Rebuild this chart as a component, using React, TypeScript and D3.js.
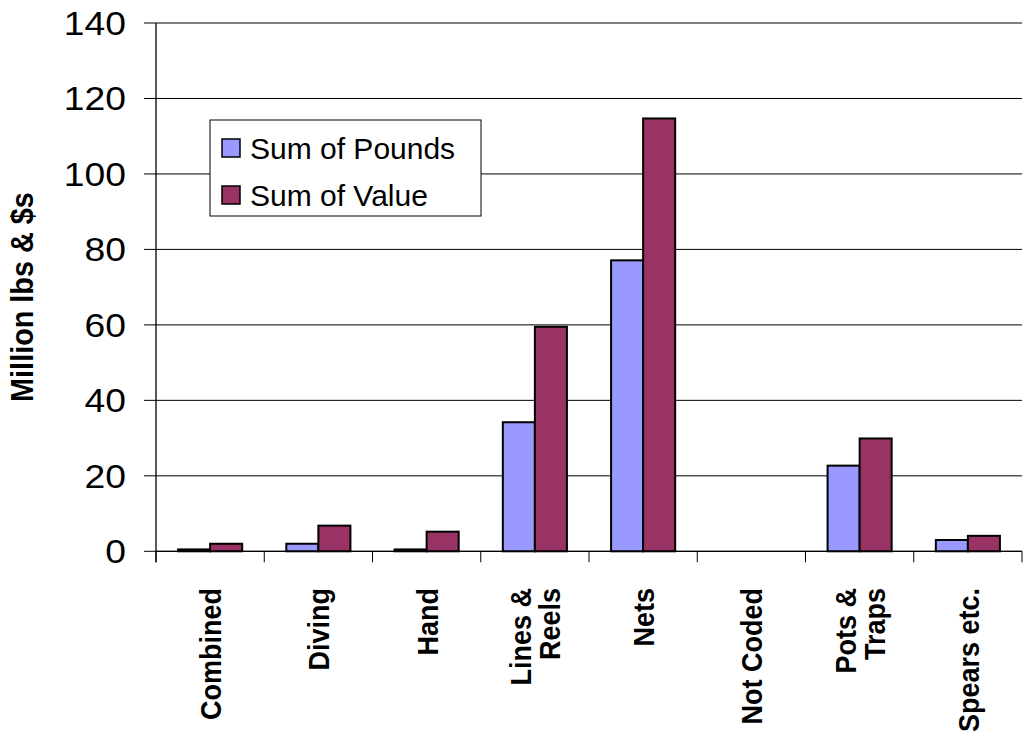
import React from "react";
import * as d3 from "d3";

const categories: string[][] = [
  ["Combined"],
  ["Diving"],
  ["Hand"],
  ["Lines &", "Reels"],
  ["Nets"],
  ["Not Coded"],
  ["Pots &", "Traps"],
  ["Spears etc."],
];
const pounds: number[] = [0.5, 2.0, 0.5, 34.2, 77.1, 0, 22.7, 3.0];
const values: number[] = [2.0, 6.8, 5.2, 59.5, 114.7, 0, 29.9, 4.1];
const yTicks: number[] = [0, 20, 40, 60, 80, 100, 120, 140];
const seriesNames: string[] = ["Sum of Pounds", "Sum of Value"];
const seriesColors: string[] = ["#9999FF", "#993366"];

const W = 1026;
const H = 739;
const left = 156;
const right = 1022;
const top = 23;
const bottom = 551.3;

export default function App() {
  const x = d3
    .scaleBand<number>()
    .domain(categories.map((_, i) => i))
    .range([left, right]);
  const y = d3.scaleLinear().domain([0, 140]).range([bottom, top]);
  const bw = x.bandwidth();
  const barW = bw * 0.296;
  const groupOff = (bw - 2 * barW) / 2;
  const font = "Arial, 'Liberation Sans', sans-serif";

  return (
    <svg
      width={W}
      height={H}
      style={{ position: "absolute", left: 0, top: 0, background: "#fff" }}
    >
      {/* horizontal gridlines */}
      {yTicks.map((t) => (
        <line
          key={"g" + t}
          x1={left}
          x2={right}
          y1={y(t)}
          y2={y(t)}
          stroke="#000"
          strokeWidth={1}
        />
      ))}
      {/* y ticks and labels */}
      {yTicks.map((t) => (
        <g key={"t" + t}>
          <line x1={144} x2={left} y1={y(t)} y2={y(t)} stroke="#000" />
          <text
            transform={`translate(126,${y(t)}) scale(1.13,1)`}
            dy="0.36em"
            textAnchor="end"
            fontFamily={font}
            fontSize={33}
            fill="#000"
          >
            {t}
          </text>
        </g>
      ))}
      {/* bars */}
      {categories.map((_, i) => {
        const x0 = (x(i) as number) + groupOff;
        return (
          <g key={"b" + i}>
            {[pounds[i], values[i]].map((v, s) =>
              v > 0 ? (
                <rect
                  key={s}
                  x={x0 + s * barW}
                  y={y(v)}
                  width={barW}
                  height={y(0) - y(v)}
                  fill={seriesColors[s]}
                  stroke="#000"
                  strokeWidth={2}
                />
              ) : null
            )}
          </g>
        );
      })}
      {/* axes */}
      <line x1={left} x2={left} y1={top} y2={bottom + 11} stroke="#000" strokeWidth={1.3} />
      <line x1={left} x2={right} y1={bottom} y2={bottom} stroke="#000" strokeWidth={1.3} />
      {d3.range(categories.length + 1).map((i) => {
        const xx = left + i * bw;
        return (
          <line key={"xt" + i} x1={xx} x2={xx} y1={bottom} y2={bottom + 11} stroke="#000" />
        );
      })}
      {/* category labels */}
      {categories.map((lines, i) => {
        const cx = (x(i) as number) + bw / 2;
        const lh = 29;
        return (
          <text
            key={"c" + i}
            transform={`translate(${cx},588) rotate(-90) scale(1,1.12)`}
            textAnchor="end"
            fontFamily={font}
            fontWeight="bold"
            fontSize={27}
            fill="#000"
          >
            {lines.map((ln, k) => (
              <tspan
                key={k}
                x={0}
                y={((k - (lines.length - 1) / 2) * lh) / 1.12}
                dy="0.36em"
              >
                {ln}
              </tspan>
            ))}
          </text>
        );
      })}
      {/* y axis title */}
      <text
        transform="translate(33,297) rotate(-90) scale(1.03,1.15)"
        textAnchor="middle"
        fontFamily={font}
        fontWeight="bold"
        fontSize={28}
        fill="#000"
      >
        Million lbs &amp; $s
      </text>
      {/* legend */}
      <g>
        <rect x={210} y={120} width={271} height={96} fill="#fff" stroke="#000" strokeWidth={1} />
        {seriesNames.map((n, i) => (
          <g key={n}>
            <rect
              x={222}
              y={139 + i * 47}
              width={18}
              height={18}
              fill={seriesColors[i]}
              stroke="#000"
              strokeWidth={1.5}
            />
            <text
              x={250}
              y={148 + i * 47}
              dy="0.36em"
              fontFamily={font}
              fontSize={30}
              fill="#000"
            >
              {n}
            </text>
          </g>
        ))}
      </g>
    </svg>
  );
}
